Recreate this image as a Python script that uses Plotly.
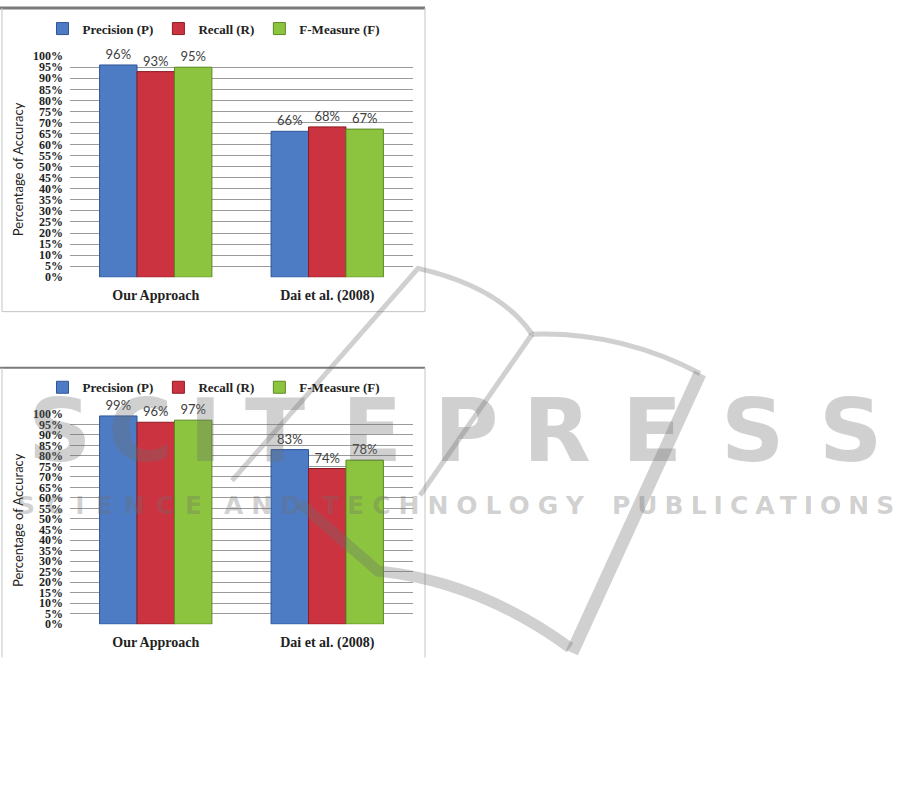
import plotly.graph_objects as go

# ---------------- data ----------------
categories = ["Our Approach", "Dai et al. (2008)"]
series_names = ["Precision (P)", "Recall (R)", "F-Measure (F)"]

top_precision = [96, 66]
top_recall = [93, 68]
top_fmeasure = [95, 67]

bottom_precision = [99, 83]
bottom_recall = [96, 74]
bottom_fmeasure = [97, 78]

y_tick_values = list(range(0, 101, 5))
y_tick_labels = [f"{v}%" for v in y_tick_values]
y_title = "Percentage of Accuracy"

watermark_letters = list("SCITEPRESS")
watermark_words = ["SCIENCE", "AND", "TECHNOLOGY", "PUBLICATIONS"]

# ---------------- styling ----------------
W, H = 914, 810
colors = ["#4d7cc4", "#cc3340", "#8dc43f"]
edge_colors = ["#2f5597", "#8b1a24", "#5e8a22"]
serif = "Liberation Serif"
sans = "Lato"


def px(x):
    return x / W


def py(y):
    return 1 - y / H


fig = go.Figure()

top_series = [top_precision, top_recall, top_fmeasure]
bottom_series = [bottom_precision, bottom_recall, bottom_fmeasure]

for panel, (series, xa, ya, lg) in enumerate([
    (top_series, "x", "y", "legend"),
    (bottom_series, "x2", "y2", "legend2"),
]):
    for i, (name, vals) in enumerate(zip(series_names, series)):
        fig.add_trace(go.Bar(
            x=categories, y=vals, name=name,
            xaxis=xa, yaxis=ya, legend=lg,
            marker=dict(color=colors[i], line=dict(color=edge_colors[i], width=1)),
            text=[f"{v}%" for v in vals], textposition="outside",
            textfont=dict(family=sans, size=13, color="#404040"),
            cliponaxis=False, constraintext="none", hoverinfo="skip",
        ))

grid_color = "#9a9a9a"
ytick_font = dict(family=serif, size=12, color="#222222", weight="bold")
xtick_font = dict(family=serif, size=14, color="#222222", weight="bold")


def yaxis_cfg(top_px, bottom_px, anchor):
    return dict(
        domain=[py(bottom_px), py(top_px)], range=[0, 100], anchor=anchor,
        tickmode="array", tickvals=y_tick_values, ticktext=y_tick_labels,
        tickfont=ytick_font, showgrid=True, gridcolor=grid_color, gridwidth=1,
        zeroline=False, showline=False, ticks="", ticklabelstandoff=6,
        fixedrange=True,
    )


def xaxis_cfg(anchor):
    return dict(
        domain=[px(70), px(413)], anchor=anchor,
        tickfont=xtick_font, showgrid=False, showline=False, zeroline=False,
        ticks="", ticklabelstandoff=8, fixedrange=True,
    )


legend_common = dict(
    orientation="h", xanchor="center", yanchor="middle",
    font=dict(family=serif, size=13, color="#222222", weight="bold"),
    bgcolor="rgba(0,0,0,0)", itemwidth=30, tracegroupgap=0,
    itemclick=False, itemdoubleclick=False,
)

fig.update_layout(
    width=W, height=H,
    margin=dict(l=0, r=0, t=0, b=0),
    paper_bgcolor="white", plot_bgcolor="white",
    barmode="group", bargap=0.345, bargroupgap=0.0,
    xaxis=xaxis_cfg("y"),
    yaxis=yaxis_cfg(50, 275, "x"),
    xaxis2=xaxis_cfg("y2"),
    yaxis2=yaxis_cfg(414, 628, "x2"),
    legend=dict(x=px(214), y=py(22), **legend_common),
    legend2=dict(x=px(214), y=py(387), **legend_common),
)

# y-axis titles
for yc in (165, 522):
    fig.add_annotation(
        text=y_title, textangle=-90, xref="paper", yref="paper",
        x=px(18), y=py(yc), xanchor="center", yanchor="middle",
        showarrow=False, font=dict(family=sans, size=13, color="#222222"),
    )

# chart frames
light = "#c4c4c4"
dark = "#7a7a7a"
frame_lines = [
    (0, 1, 425, 1, dark, 3),
    (2, 1, 2, 310, light, 1),
    (425, 1, 425, 310, light, 1),
    (2, 310, 425, 310, light, 1),
    (0, 367, 425, 367, dark, 2),
    (2, 367, 2, 662, light, 1),
    (425, 367, 425, 662, light, 1),
]
for x0, y0, x1, y1, c, w in frame_lines:
    fig.add_shape(type="line", xref="paper", yref="paper",
                  x0=px(x0), y0=py(y0), x1=px(x1), y1=py(y1),
                  line=dict(color=c, width=w))

# publisher watermark (decorative overlay)
wm = "rgba(110,110,110,0.32)"


def path(points):
    s = ""
    for cmd, pts in points:
        s += cmd + " " + " ".join(f"{px(a):.5f},{py(b):.5f}" for a, b in pts) + " "
    return s.strip()


logo_paths = [
    ([("M", [(232, 482)]), ("L", [(418, 266)]), ("Q", [(500, 285), (532, 333)])], 5),
    ([("M", [(532, 333)]), ("Q", [(620, 330), (700, 373)])], 5),
    ([("M", [(532, 333)]), ("L", [(420, 497)])], 5),
    ([("M", [(700, 373)]), ("L", [(572, 657)])], 13),
    ([("M", [(300, 505)]), ("L", [(378, 574)]), ("Q", [(480, 585), (570, 652)])], 11),
]
for pts, w in logo_paths:
    fig.add_shape(type="path", xref="paper", yref="paper", path=path(pts),
                  line=dict(color=wm, width=w))

letter_centers = [60, 140, 205, 275, 372, 467, 557, 652, 752, 850]
for ch, cx in zip(watermark_letters, letter_centers):
    fig.add_annotation(
        text=ch, xref="paper", yref="paper", x=px(cx), y=py(431),
        xanchor="center", yanchor="middle", showarrow=False,
        font=dict(family="DejaVu Sans", size=88, color=wm, weight="bold"),
    )

word_starts = [15, 222, 320, 610]
word_spacing = [11, 8, 8, 7]
for word, x0, sp in zip(watermark_words, word_starts, word_spacing):
    fig.add_annotation(
        text=f'<span style="letter-spacing:{sp}px">{word}</span>',
        xref="paper", yref="paper", x=px(x0), y=py(507),
        xanchor="left", yanchor="middle", showarrow=False,
        font=dict(family="DejaVu Sans", size=25, color=wm, weight="bold"),
    )

fig.write_html(
    "out.html",
    config={"displayModeBar": False, "staticPlot": False},
    post_script="document.body.style.margin='0';document.body.style.overflow='hidden';",
)
